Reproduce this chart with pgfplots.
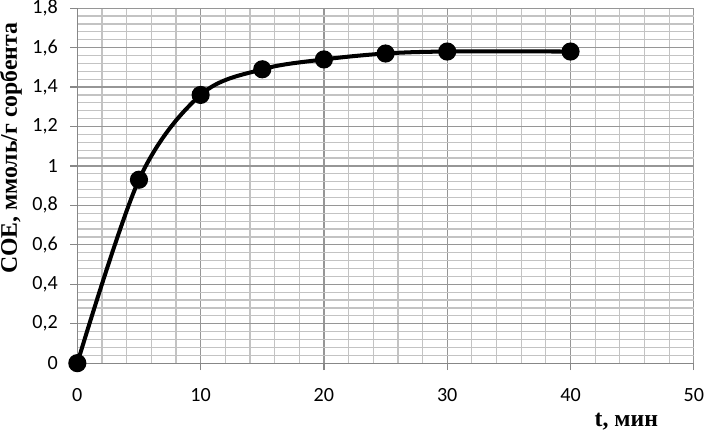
\documentclass[border=0pt]{standalone}
\usepackage{pgfplots}
\pgfplotsset{compat=1.18}
\usepackage{fontspec}
\setmainfont{Carlito}
\newfontfamily\tnr{Liberation Serif}

\definecolor{majgrid}{RGB}{150,150,150}
\definecolor{mingrid}{RGB}{195,195,195}
\definecolor{axline}{RGB}{135,135,135}

\begin{document}
\begin{tikzpicture}
\begin{axis}[
    scale only axis,
    width=306.5pt, height=176.5pt,
    xmin=0, xmax=50, ymin=0, ymax=1.8,
    xtick={0,10,...,50},
    ytick={0,0.2,...,1.8},
    minor x tick num=4,
    minor y tick num=4,
    grid=both,
    major grid style={majgrid, line width=0.6pt},
    minor grid style={mingrid, line width=0.6pt},
    axis x line*=bottom, axis y line*=left,
    axis line style={axline, line width=0.6pt, -},
    tick align=outside,
    major tick length=3.5pt,
    minor tick length=0pt,
    tick style={axline, line width=0.6pt},
    tick label style={font=\fontsize{10}{12}\selectfont, inner sep=0pt},
    xticklabel style={yshift=-9pt},
    yticklabel style={xshift=-6pt},
    /pgf/number format/.cd, use comma, assume math mode=true,
    /pgfplots/.cd,
    clip=false,
]
\addplot[black, line width=2pt, smooth, tension=0.55,
    mark=*, mark size=3.5pt, mark options={fill=black}]
coordinates {(0,0) (5,0.93) (10,1.36) (15,1.49) (20,1.54) (25,1.57) (30,1.58) (40,1.58)};
\node[rotate=90, anchor=base, inner sep=0pt,
      font=\tnr\bfseries\fontsize{11.8}{14}\selectfont]
    at ([xshift=-30pt]axis description cs:0,0.605) {СОЕ, ммоль/г сорбента};
\node[anchor=base, inner sep=0pt,
      font=\tnr\bfseries\fontsize{11.8}{14}\selectfont]
    at ([yshift=-31.5pt]axis description cs:0.8905,0) {t, мин};
\end{axis}
\end{tikzpicture}
\end{document}
